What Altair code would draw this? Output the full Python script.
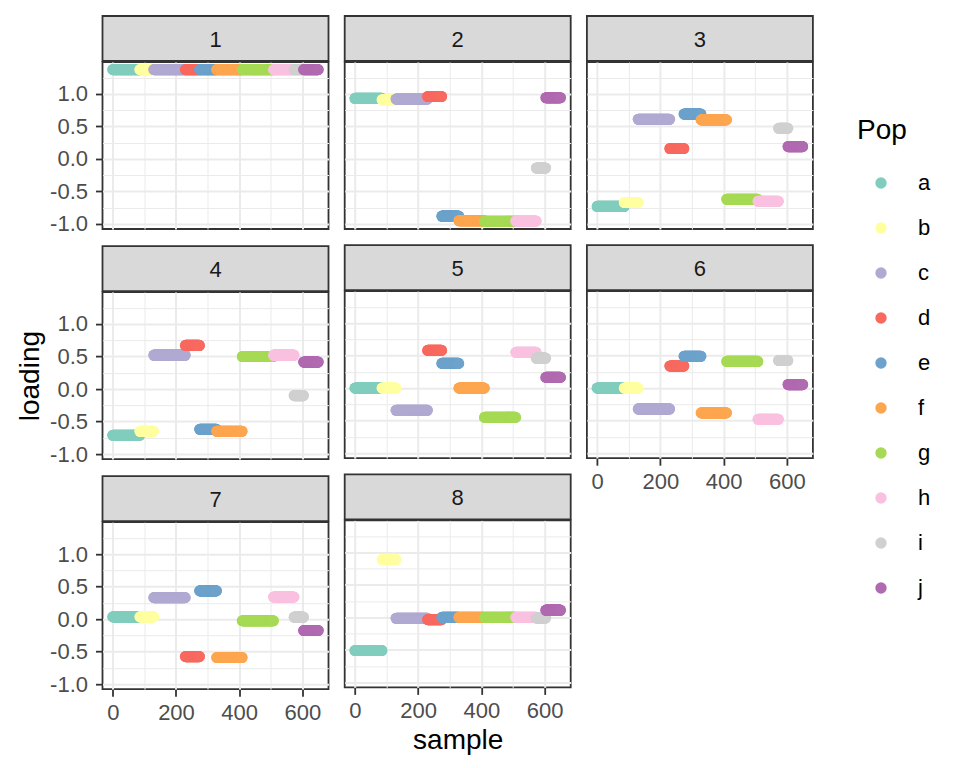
import altair as alt
import pandas as pd

# ---- data ----
pops = ["a", "b", "c", "d", "e", "f", "g", "h", "i", "j"]
pop_sizes = [86, 44, 100, 45, 54, 81, 99, 65, 30, 47]
pop_colors = ["#80CDBE", "#FFFFA0", "#B0AAD2", "#F8695F", "#6CA2CB",
              "#FDA650", "#A6DA55", "#F9C0E0", "#D0D0D0", "#B06AB0"]

panels = [1, 2, 3, 4, 5, 6, 7, 8]
load_1 = [1.373, 1.373, 1.373, 1.373, 1.373, 1.373, 1.373, 1.373, 1.373, 1.373]
load_2 = [0.93, 0.91, 0.92, 0.96, -0.88, -0.95, -0.96, -0.955, -0.14, 0.94]
load_3 = [-0.73, -0.67, 0.61, 0.16, 0.69, 0.60, -0.62, -0.65, 0.47, 0.19]
load_4 = [-0.71, -0.65, 0.52, 0.67, -0.62, -0.65, 0.50, 0.52, -0.10, 0.415]
load_5 = [0.0, 0.0, -0.34, 0.58, 0.38, 0.0, -0.45, 0.55, 0.46, 0.165]
load_6 = [0.0, 0.0, -0.32, 0.34, 0.49, -0.38, 0.41, -0.48, 0.425, 0.055]
load_7 = [0.035, 0.035, 0.33, -0.575, 0.435, -0.59, -0.025, 0.34, 0.03, -0.175]
load_8 = [-0.51, 0.89, -0.015, -0.035, 0.0, 0.0, 0.0, 0.0, -0.01, 0.11]
loadings = {1: load_1, 2: load_2, 3: load_3, 4: load_4,
            5: load_5, 6: load_6, 7: load_7, 8: load_8}

x_ticks = [0, 100, 200, 300, 400, 500, 600]
y_ticks = [-1.0, -0.75, -0.5, -0.25, 0.0, 0.25, 0.5, 0.75, 1.0, 1.25]

# ---- build table ----
rows = []
s = 0
for p, n in zip(pops, pop_sizes):
    for _ in range(n):
        rows.append({"sample": s, "Pop": p})
        s += 1
base = pd.DataFrame(rows)

FONT = "Liberation Sans"
W, H, S = 226, 167, 45
GRID = "#EBEBEB"
X_DOMAIN = [-32.5, 682.5]
Y_DOMAIN = [-1.077, 1.49]

x_major = "datum.value % 200 === 0"
y_major = "abs(datum.value * 2 - round(datum.value * 2)) < 1e-6"

legend = alt.Legend(
    title="Pop", orient="none", legendX=754.5, legendY=101,
    titleFontSize=28, titleFont=FONT, titleFontWeight="normal", titleColor="black",
    labelFontSize=22, labelFont=FONT, labelColor="black",
    symbolType="circle", symbolSize=130, symbolStrokeWidth=0,
    rowPadding=23, titlePadding=27, symbolOffset=13, labelOffset=26,
)


def x_axis(show, title=None):
    kw = dict(
        values=x_ticks, grid=True, gridColor=GRID,
        gridWidth={"condition": {"test": x_major, "value": 2}, "value": 1},
        domain=False,
    )
    if show:
        kw.update(labels=True, ticks=True,
                  tickOpacity={"condition": {"test": x_major, "value": 1}, "value": 0},
                  labelExpr="datum.value % 200 === 0 ? datum.label : ''",
                  labelPadding=6)
    else:
        kw.update(labels=False, ticks=False)
    if title:
        kw.update(title=title, titlePadding=5)
    else:
        kw.update(title=None)
    return alt.Axis(**kw)


def y_axis(show, title_visible=False):
    kw = dict(
        values=y_ticks, grid=True, gridColor=GRID,
        gridWidth={"condition": {"test": y_major, "value": 2}, "value": 1},
        domain=False,
    )
    if show:
        kw.update(labels=True, ticks=True,
                  tickOpacity={"condition": {"test": y_major, "value": 1}, "value": 0},
                  labelExpr="abs(datum.value * 2 - round(datum.value * 2)) < 1e-6 ? "
                            "((datum.value < 0 ? '-' : '') + format(abs(datum.value), '.1f')) : ''",
                  labelPadding=8,
                  title="loading", titlePadding=5,
                  titleOpacity=1 if title_visible else 0)
    else:
        kw.update(labels=False, ticks=False, title=None)
    return alt.Axis(**kw)


def cell(pan, show_x, show_y, y_title=False, x_title=None):
    d = base.copy()
    d["loading"] = d["Pop"].map(dict(zip(pops, loadings[pan])))
    d["panel"] = str(pan)
    strip = alt.Chart(pd.DataFrame({"panel": [str(pan)]})).mark_text(
        font=FONT, fontSize=22, color="#1A1A1A", baseline="middle", align="center"
    ).encode(
        text="panel:N", x=alt.value(W / 2), y=alt.value(S / 2 + 1)
    ).properties(width=W, height=S,
                 view=alt.ViewBackground(fill="#D9D9D9", stroke="#333333", strokeWidth=1.8))
    pts = alt.Chart(d).mark_circle(size=125, opacity=1).encode(
        x=alt.X("sample:Q", scale=alt.Scale(domain=X_DOMAIN, nice=False, zero=False),
                axis=x_axis(show_x, x_title)),
        y=alt.Y("loading:Q", scale=alt.Scale(domain=Y_DOMAIN, nice=False, zero=False),
                axis=y_axis(show_y, y_title)),
        color=alt.Color("Pop:N", scale=alt.Scale(domain=pops, range=pop_colors), legend=legend),
    ).properties(width=W, height=H)
    return alt.vconcat(strip, pts, spacing=-1.8)


col1 = alt.vconcat(cell(1, False, True), cell(4, False, True, y_title=True),
                   cell(7, True, True), spacing=9.1)
col2 = alt.vconcat(cell(2, False, False), cell(5, False, False),
                   cell(8, True, False, x_title="sample"), spacing=14.2)
col3 = alt.vconcat(cell(3, False, False), cell(6, True, False), spacing=14.2)

chart = alt.hconcat(col1, col2, col3, spacing=14.2).properties(
    padding={"left": 7.5, "top": 7, "right": 5, "bottom": 5}
).configure_view(
    stroke="#333333", strokeWidth=1.8
).configure_axis(
    labelFont=FONT, labelFontSize=22, labelColor="#4D4D4D",
    tickColor="#333333", tickWidth=1.8, tickSize=7,
    titleFont=FONT, titleFontSize=28, titleFontWeight="normal", titleColor="black",
).configure_legend(
    padding=0
)

chart.save("out.html", embed_options={"renderer": "svg", "actions": False})
